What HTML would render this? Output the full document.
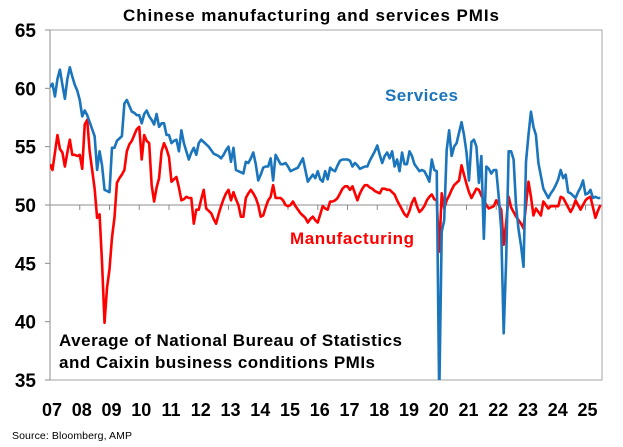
<!DOCTYPE html>
<html><head><meta charset="utf-8"><style>
html,body{margin:0;padding:0;background:#fff;}
svg{display:block;font-family:"Liberation Sans",Arial,sans-serif;}
</style></head><body>
<svg id="chart" width="623" height="447" viewBox="0 0 623 447">
<defs><clipPath id="plotclip"><rect x="50" y="30" width="552" height="350"/></clipPath></defs>
<text x="311" y="21" text-anchor="middle" font-size="17" font-weight="bold" fill="#000" textLength="376">Chinese manufacturing and services PMIs</text>
<g id="axes"></g>
<g id="series" clip-path="url(#plotclip)"></g>
<text x="385" y="101" font-size="17" font-weight="bold" fill="#1b75bc" textLength="73">Services</text>
<text x="290" y="244" font-size="17" font-weight="bold" fill="#ff0000" textLength="124">Manufacturing</text>
<text x="59" y="346" font-size="17" font-weight="bold" fill="#000" textLength="343">Average of National Bureau of Statistics</text>
<text x="59" y="368" font-size="17" font-weight="bold" fill="#000" textLength="316">and Caixin business conditions PMIs</text>
<text x="12" y="439" font-size="10.5" fill="#000" textLength="120">Source: Bloomberg, AMP</text>
</svg>
<script>
const yTicks = [35, 40, 45, 50, 55, 60, 65];
const yearLabels = ["07","08","09","10","11","12","13","14","15","16","17","18","19","20","21","22","23","24","25"];
const startYear = 2007;
const services = [
60.1,60.4,59.3,60.8,61.6,60.3,59.1,60.8,61.8,61.0,60.3,59.8,
59.0,57.6,58.1,57.7,57.1,56.5,55.9,53.0,54.6,53.4,51.3,51.2,
51.1,54.9,54.9,55.5,55.7,55.9,58.7,59.0,58.5,58.0,57.9,57.7,
57.7,57.0,57.8,58.1,57.6,57.3,56.9,57.8,56.7,57.0,57.0,56.0,
56.0,55.3,55.5,55.6,54.6,56.4,55.3,54.6,53.9,54.5,54.9,54.3,
55.3,55.6,55.4,55.2,55.0,54.7,54.4,54.3,54.2,54.0,54.3,54.7,
55.0,53.7,54.9,53.0,52.9,52.8,52.7,53.7,53.6,54.0,54.5,53.5,
52.1,52.6,53.2,53.3,53.3,54.0,52.1,54.3,53.9,53.5,53.5,53.6,
53.3,52.9,53.0,53.1,53.2,53.6,54.0,53.0,52.0,52.3,52.6,52.3,
52.9,52.2,52.0,52.9,52.2,53.2,53.0,52.9,53.4,53.8,53.9,53.9,
53.9,53.8,53.3,53.6,53.4,53.1,53.2,53.3,53.3,53.8,54.2,54.6,
55.1,54.3,53.6,54.2,54.5,54.0,54.6,53.3,53.9,52.9,54.5,53.5,
53.5,54.6,54.2,53.5,53.2,52.9,53.0,52.9,52.5,52.0,53.9,53.0,
52.9,33.5,47.7,48.7,54.7,56.4,54.2,55.0,55.3,56.2,57.1,56.0,
54.5,52.1,55.4,55.6,55.0,51.9,54.2,47.1,53.3,53.1,52.7,53.0,
53.0,50.7,47.9,39.0,45.3,54.6,54.6,53.9,49.9,47.9,46.5,44.7,
53.7,56.0,58.0,56.7,56.0,53.6,52.5,51.4,51.0,50.6,51.0,51.3,
51.7,52.2,53.0,52.3,52.6,51.1,51.0,50.8,50.6,51.1,51.5,52.1,
50.9,51.0,51.3,50.6,50.7,50.6,50.6];
const manufacturing = [
53.5,53.0,54.5,56.0,54.8,54.5,53.3,54.5,55.6,54.3,54.3,54.2,
54.3,53.1,56.9,57.3,54.6,53.0,51.4,48.9,49.2,45.0,39.9,42.9,
44.5,47.2,48.9,51.9,52.3,52.6,53.0,54.6,55.2,55.5,56.0,56.5,
56.7,53.9,56.0,55.5,55.3,51.7,50.3,51.5,52.3,54.6,55.3,54.8,
54.1,52.0,52.2,52.4,51.5,50.4,50.5,50.7,50.6,50.6,48.4,49.6,
49.6,50.5,51.3,49.7,49.5,49.3,48.8,48.4,49.2,49.9,50.5,51.0,
51.3,50.4,51.1,50.5,50.0,49.0,49.0,50.6,51.0,51.3,51.0,50.6,
50.0,49.0,49.1,49.8,50.4,50.7,51.7,50.6,50.6,50.6,50.4,50.0,
49.9,50.0,50.3,49.9,49.6,49.3,49.1,48.9,48.5,48.8,49.0,48.7,
48.5,49.2,49.9,49.7,49.6,50.3,50.3,50.4,50.6,51.0,51.4,51.6,
51.6,51.3,51.6,51.0,50.4,51.0,51.4,51.7,51.7,51.5,51.4,51.2,
51.1,51.0,51.4,51.4,51.3,51.3,51.1,50.9,50.4,50.0,49.6,49.2,
49.0,49.5,50.2,50.6,49.9,49.4,49.6,49.9,50.4,50.7,50.9,50.5,
50.4,46.0,51.0,49.7,50.4,50.8,51.3,51.7,51.9,52.1,53.4,52.6,
51.8,51.1,50.6,51.0,51.4,51.3,50.8,50.4,50.0,49.7,49.8,49.9,
50.4,50.0,49.6,46.6,48.5,50.7,49.8,49.4,49.0,48.7,48.4,48.0,
50.0,52.0,50.7,49.1,49.7,49.4,49.1,50.3,50.0,49.7,49.9,49.9,
49.9,49.9,50.7,50.6,50.2,49.8,49.4,49.8,50.4,50.0,49.6,50.0,
50.4,50.6,50.7,49.8,48.9,49.5,50.0];

const NS = "http://www.w3.org/2000/svg";
const X0 = 50, X1 = 602, Y0 = 30, Y1 = 380, YEARW = 29.75;
function xScale(monthIndex){ return X0 + (monthIndex/12)*YEARW; }
function yScale(v){ return 205 - (v-50)*(350/30); }
function mk(tag, attrs, parent){ const e=document.createElementNS(NS,tag); for(const k in attrs) e.setAttribute(k,attrs[k]); parent.appendChild(e); return e; }

const axes = document.getElementById('axes');
const grey = "#8c8c8c";
const frame = mk('rect',{x:X0,y:Y0,width:X1-X0,height:Y1-Y0,fill:'none',stroke:'#a6a6a6','stroke-width':1},axes);


const yAxis = mk('line',{x1:X0,y1:Y0,x2:X0,y2:Y1,stroke:grey,'stroke-width':1},axes);


const base = mk('line',{x1:X0,y1:yScale(50),x2:X1,y2:yScale(50),stroke:grey,'stroke-width':1},axes);


yTicks.forEach(v=>{
  const y = yScale(v);
  const t = mk('line',{x1:X0-5,y1:y,x2:X0,y2:y,stroke:grey},axes);
  
  
  const lb = mk('text',{x:36,y:y+7,'text-anchor':'end','font-size':19,'font-weight':'bold',fill:'#000'},axes);
  lb.textContent = v;
  
  
});
yearLabels.forEach((lab,i)=>{
  const x = xScale(i*12);
  if(i>0){
    const t = mk('line',{x1:x,y1:yScale(50),x2:x,y2:yScale(50)+5,stroke:grey},axes);
    
    
  }
  const lb = mk('text',{x:x+2,y:416,'text-anchor':'middle','font-size':18,'font-weight':'bold',fill:'#000'},axes);
  lb.textContent = lab;
  
  
});

const sg = document.getElementById('series');
function drawLine(data, color, name){
  const pts = data.map((v,i)=> xScale(i).toFixed(2)+','+yScale(v).toFixed(2)).join(' ');
  const p = mk('polyline',{points:pts,fill:'none',stroke:color,'stroke-width':2.6,'stroke-linejoin':'round'},sg);
  
  
}
drawLine(manufacturing,'#ff0000','manufacturing-line');
drawLine(services,'#1b75bc','services-line');
</script>
</body></html>
